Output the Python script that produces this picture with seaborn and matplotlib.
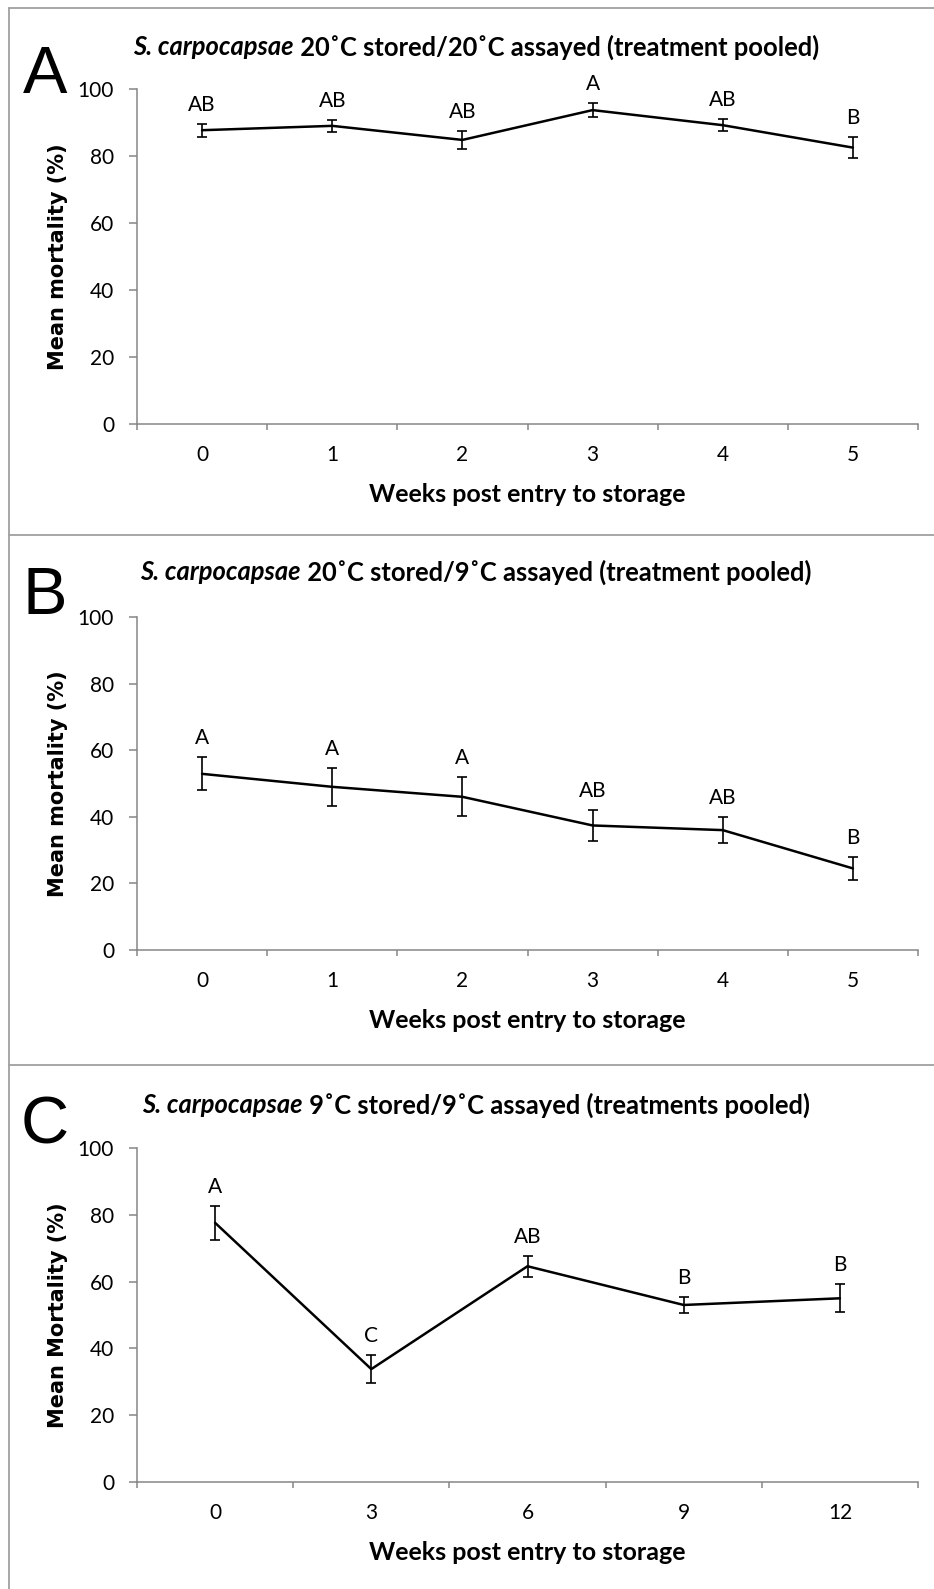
import matplotlib
matplotlib.use("Agg")
import matplotlib.pyplot as plt
import numpy as np
import pandas as pd
import seaborn as sns
from matplotlib.lines import Line2D

# ---- data ----
weeks_a = [0, 1, 2, 3, 4, 5]
mort_a = [87.7, 89.0, 84.8, 93.7, 89.2, 82.5]
se_a = [1.9, 1.8, 2.7, 2.0, 1.8, 3.1]
letters_a = ["AB", "AB", "AB", "A", "AB", "B"]

weeks_b = [0, 1, 2, 3, 4, 5]
mort_b = [52.9, 49.0, 46.0, 37.4, 36.0, 24.5]
se_b = [5.0, 5.7, 5.9, 4.7, 3.9, 3.5]
letters_b = ["A", "A", "A", "AB", "AB", "B"]

weeks_c = [0, 3, 6, 9, 12]
mort_c = [77.6, 33.8, 64.6, 53.0, 55.0]
se_c = [5.0, 4.2, 3.1, 2.3, 4.2]
letters_c = ["A", "C", "AB", "B", "B"]

panel_tags = ["A", "B", "C"]
titles_italic = ["S. carpocapsae", "S. carpocapsae", "S. carpocapsae"]
titles_rest = ["20˚C stored/20˚C assayed (treatment pooled)",
               "20˚C stored/9˚C assayed (treatment pooled)",
               "9˚C stored/9˚C assayed (treatments pooled)"]
ylabels = ["Mean mortality (%)", "Mean mortality (%)", "Mean Mortality (%)"]
xlabel = "Weeks post entry to storage"
yticks = [0, 20, 40, 60, 80, 100]

sns.set_theme(style="white")
plt.rcParams["font.family"] = ["Lato", "DejaVu Sans"]

W, H = 934, 1589
fig = plt.figure(figsize=(W / 100, H / 100), dpi=100)
fig.patch.set_facecolor("white")

AX_GRAY = "#868686"
BOX_GRAY = "#a0a0a0"


def px_rect(left, top, right, bottom):
    return [left / W, 1 - bottom / H, (right - left) / W, (bottom - top) / H]


# axes frames in pixel space: (left, top, right, bottom)
frames = [(137, 89, 918, 424), (137, 617, 918, 950), (137, 1148, 918, 1482)]
title_y = [47, 572, 1105]
tag_y = [76, 597, 1127]

panels = [
    (weeks_a, mort_a, se_a, letters_a, 1),
    (weeks_b, mort_b, se_b, letters_b, 1),
    (weeks_c, mort_c, se_c, letters_c, 3),
]

renderer = fig.canvas.get_renderer()

for i, (wk, mort, se, letters, step) in enumerate(panels):
    l, t, r, b = frames[i]
    ax = fig.add_axes(px_rect(l, t, r, b))
    df = pd.DataFrame({"week": wk, "mortality": mort, "se": se})

    sns.lineplot(data=df, x="week", y="mortality", ax=ax, color="black",
                 linewidth=1.8, errorbar=None, zorder=3)
    ax.errorbar(df["week"], df["mortality"], yerr=df["se"], fmt="none",
                ecolor="black", elinewidth=1.2, capsize=3.3, capthick=1.2,
                zorder=4)
    for xv, yv, sv, lab in zip(wk, mort, se, letters):
        ax.annotate(lab, (xv, yv + sv), xytext=(0, 19),
                    textcoords="offset pixels", ha="center", va="center",
                    fontsize=15, color="black")

    lo = wk[0] - step / 2
    hi = wk[-1] + step / 2
    ax.set_xlim(lo, hi)
    ax.set_ylim(0, 100)
    ax.set_yticks(yticks)
    ax.set_yticklabels([str(v) for v in yticks])
    ax.set_xticks(np.arange(lo, hi + step / 4, step))
    ax.set_xticklabels([])
    ax.set_xticks(wk, minor=True)
    ax.set_xticklabels([str(v) for v in wk], minor=True)

    for side in ["top", "right"]:
        ax.spines[side].set_visible(False)
    for side in ["left", "bottom"]:
        ax.spines[side].set_color(AX_GRAY)
        ax.spines[side].set_linewidth(1.1)
    ax.tick_params(axis="y", which="major", direction="out", length=6,
                   width=1.1, color=AX_GRAY, pad=10.5, labelsize=15,
                   labelcolor="black", left=True)
    ax.tick_params(axis="x", which="major", direction="out", length=4.5,
                   width=1.1, color=AX_GRAY, bottom=True)
    ax.tick_params(axis="x", which="minor", length=0, pad=15, labelsize=15,
                   labelcolor="black", bottom=True)
    ax.grid(False)
    ax.set_facecolor("none")

    ax.set_xlabel(xlabel, fontsize=18, fontweight="bold", color="black")
    ax.xaxis.label.set_verticalalignment("center")
    ax.xaxis.set_label_coords(0.5, -70 / (b - t))
    ax.set_ylabel(ylabels[i], fontsize=15, fontweight="bold",
                  color="black", family="DejaVu Sans")
    ax.yaxis.label.set_verticalalignment("center")
    ax.yaxis.set_label_coords((58 - l) / (r - l), 0.5)

    # panel tag
    fig.text(45 / W, 1 - tag_y[i] / H, panel_tags[i], fontsize=48,
             family="Liberation Sans", ha="center", va="center",
             color="black")

    # two-part title: italic species name followed by the conditions
    ty = 1 - title_y[i] / H
    t1 = fig.text(0, ty, titles_italic[i], fontsize=18.4, fontweight="bold",
                  fontstyle="italic", ha="left", va="center", color="black")
    t2 = fig.text(0, ty, " " + titles_rest[i], fontsize=18.4,
                  fontweight="bold", ha="left", va="center", color="black")
    w1 = t1.get_window_extent(renderer).width
    w2 = t2.get_window_extent(renderer).width
    start = 476 - (w1 + w2) / 2
    t1.set_x(start / W)
    t2.set_x((start + w1) / W)

# panel borders
def hline(y, x0=9, x1=W + 5):
    fig.add_artist(Line2D([x0 / W, x1 / W], [1 - y / H, 1 - y / H],
                          transform=fig.transFigure, color=BOX_GRAY,
                          linewidth=1.3))

def vline(x, y0, y1):
    fig.add_artist(Line2D([x / W, x / W], [1 - y0 / H, 1 - y1 / H],
                          transform=fig.transFigure, color=BOX_GRAY,
                          linewidth=1.3))

hline(8)
hline(535)
hline(1065)
vline(9, 8, H + 5)

fig.savefig("out.png", dpi=100, facecolor="white")
